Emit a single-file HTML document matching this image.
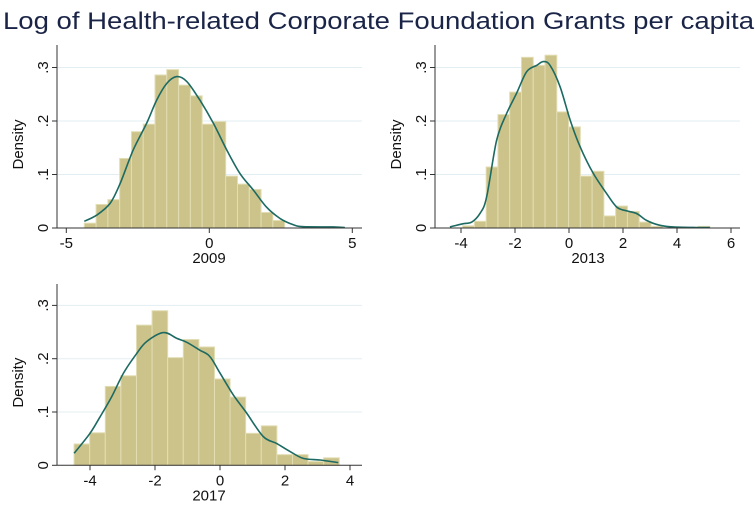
<!DOCTYPE html>
<html><head><meta charset="utf-8"><style>
body{margin:0;background:#fff;}
svg{display:block;font-family:"Liberation Sans",Arial,sans-serif;}
</style></head><body>
<svg id="c" width="755" height="506" xmlns="http://www.w3.org/2000/svg">
<text x="3" y="29" font-size="24" fill="#1a2447" textLength="751" lengthAdjust="spacingAndGlyphs">Log of Health-related Corporate Foundation Grants per capita</text>
</svg>
<script>
// 2009
const bins2009Start = -4.37, bins2009Width = 0.412;
const dens2009 = [0.009,0.044,0.053,0.13,0.18,0.194,0.286,0.296,0.267,0.247,0.194,0.199,0.097,0.082,0.072,0.029,0.014];
const kdeX2009 = [-4.37,-3.94,-3.47,-3.12,-2.66,-2.19,-1.84,-1.49,-1.14,-0.79,-0.33,0.14,0.61,1.07,1.54,2.0,2.47,2.94,3.29,4.34,4.74];
const kdeY2009 = [0.0125,0.024,0.046,0.083,0.146,0.196,0.239,0.27,0.283,0.274,0.239,0.196,0.146,0.102,0.071,0.039,0.018,0.006,0.0025,0.002,0.001];
const xticks2009 = [-5,0,5];
// 2013
const bins2013Start = -3.94, bins2013Width = 0.436;
const dens2013 = [0.004,0.0125,0.114,0.212,0.254,0.319,0.304,0.323,0.217,0.189,0.097,0.106,0.0225,0.041,0.031,0.011,0.003,0,0,0,0.003];
const kdeX2013 = [-4.41,-3.91,-3.6,-3.3,-3.05,-2.68,-2.31,-1.94,-1.57,-1.2,-0.95,-0.7,-0.33,0.04,0.41,0.9,1.4,1.77,2.14,2.51,2.88,3.37,3.86,4.73,5.22];
const kdeY2013 = [0.002,0.008,0.011,0.027,0.058,0.164,0.214,0.252,0.292,0.304,0.311,0.304,0.264,0.202,0.152,0.102,0.064,0.039,0.032,0.027,0.014,0.005,0.002,0.001,0.001];
const xticks2013 = [-4,-2,0,2,4,6];
// 2017
const bins2017Start = -4.49, bins2017Width = 0.48;
const dens2017 = [0.04,0.061,0.148,0.168,0.263,0.29,0.202,0.236,0.222,0.162,0.128,0.06,0.074,0.02,0.02,0.007,0.014];
const kdeX2017 = [-4.49,-4.0,-3.69,-3.33,-2.97,-2.56,-2.26,-1.74,-1.33,-1.03,-0.62,-0.31,0,0.41,0.82,1.33,1.74,2.15,2.56,3.08,3.64];
const kdeY2017 = [0.0225,0.06,0.091,0.129,0.173,0.21,0.232,0.249,0.238,0.231,0.216,0.204,0.173,0.132,0.098,0.054,0.041,0.026,0.013,0.01,0.005];
const xticks2017 = [-4,-2,0,2,4];
const yticks = [0,0.1,0.2,0.3];
const yLabels = ["0",".1",".2",".3"];

const svg = document.getElementById('c');
const NS = 'http://www.w3.org/2000/svg';
function mk(tag, attrs){const e=document.createElementNS(NS,tag);for(const k in attrs)e.setAttribute(k,attrs[k]);svg.appendChild(e);return e;}
function smooth(P){
  let d='M'+P[0][0].toFixed(1)+','+P[0][1].toFixed(1);
  for(let i=0;i<P.length-1;i++){
    const p0=P[Math.max(i-1,0)],p1=P[i],p2=P[i+1],p3=P[Math.min(i+2,P.length-1)];
    const c1=[p1[0]+(p2[0]-p0[0])/6,p1[1]+(p2[1]-p0[1])/6];
    const c2=[p2[0]-(p3[0]-p1[0])/6,p2[1]-(p3[1]-p1[1])/6];
    d+=` C${c1[0].toFixed(1)},${c1[1].toFixed(1)} ${c2[0].toFixed(1)},${c2[1].toFixed(1)} ${p2[0].toFixed(1)},${p2[1].toFixed(1)}`;
  }
  return d;
}

function panel(p){
  const sx = v => p.x0 + v*p.ux;
  const sy = v => p.y0 - v*p.uy;
  yticks.forEach((t,i)=>{
    if(i>0){const g=mk('line',{x1:p.axL,x2:p.axR,y1:sy(t),y2:sy(t),stroke:'#e3eef3','stroke-width':1});
      
      }
    const tk=mk('line',{x1:p.axL-5,x2:p.axL,y1:sy(t),y2:sy(t),stroke:'#333','stroke-width':1});
    
    
    const lb=mk('text',{x:p.axL-9,y:sy(t),'font-size':15,fill:'#111','text-anchor':'middle',transform:`rotate(-90 ${p.axL-9} ${sy(t)})`});
    lb.textContent=yLabels[i];
    
    
  });
  p.dens.forEach((d,i)=>{
    if(d<=0)return;
    const a=p.bs+i*p.bw;
    const r=mk('rect',{x:sx(a),y:sy(d),width:p.bw*p.ux,height:d*p.uy,fill:'#ccc38a',stroke:'#e2ddb3','stroke-width':1});
    
    
  });
  const P=p.kx.map((x,i)=>[sx(x),sy(p.ky[i])]);
  const pl=mk('path',{d:smooth(P),fill:'none',stroke:'#1c6a62','stroke-width':1.6});
  
  
  const ya=mk('line',{x1:p.axL,x2:p.axL,y1:p.axT,y2:p.y0,stroke:'#333','stroke-width':1});
  
  
  const xa=mk('line',{x1:p.axL,x2:p.axR,y1:p.y0,y2:p.y0,stroke:'#333','stroke-width':1});
  
  
  p.xt.forEach(t=>{
    const tk=mk('line',{x1:sx(t),x2:sx(t),y1:p.y0,y2:p.y0+5,stroke:'#333','stroke-width':1});
    
    
    const lb=mk('text',{x:sx(t),y:p.y0+20,'font-size':15,fill:'#111','text-anchor':'middle'});
    lb.textContent=String(t);
    
    
  });
  const xt=mk('text',{x:p.titleX,y:p.y0+35,'font-size':15,fill:'#111','text-anchor':'middle'});
  xt.textContent=p.title;
  
  
  const yx=p.axL-34, yy=(p.axT+p.y0)/2+8;
  const yt=mk('text',{x:yx,y:yy,'font-size':15,fill:'#111','text-anchor':'middle',transform:`rotate(-90 ${yx} ${yy})`});
  yt.textContent='Density';
  
  
}
panel({x0:209.3,ux:28.6,y0:228,uy:535,axL:57,axR:362,axT:45,bs:bins2009Start,bw:bins2009Width,dens:dens2009,kx:kdeX2009,ky:kdeY2009,xt:xticks2009,title:'2009',titleX:209});
panel({x0:569,ux:27,y0:228,uy:535,axL:435,axR:740,axT:45,bs:bins2013Start,bw:bins2013Width,dens:dens2013,kx:kdeX2013,ky:kdeY2013,xt:xticks2013,title:'2013',titleX:588});
panel({x0:220,ux:32.5,y0:465.3,uy:533,axL:57,axR:362,axT:284,bs:bins2017Start,bw:bins2017Width,dens:dens2017,kx:kdeX2017,ky:kdeY2017,xt:xticks2017,title:'2017',titleX:209});
</script>
</body></html>
